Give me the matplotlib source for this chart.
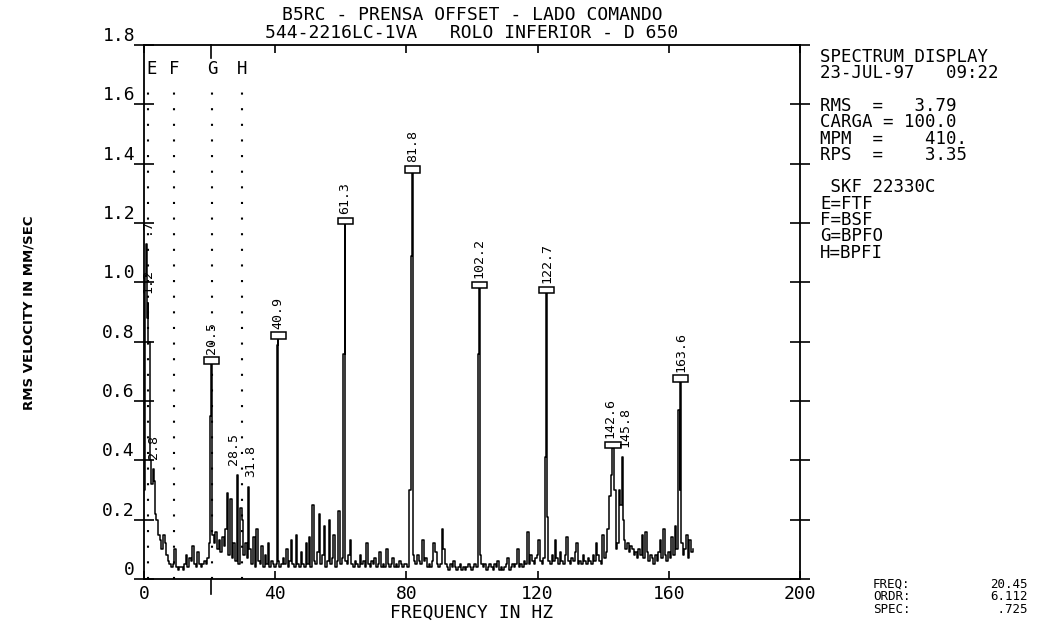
import numpy as np
import matplotlib.pyplot as plt
from matplotlib.patches import Rectangle

plt.rcParams['font.family'] = ['DejaVu Sans Mono']

# spectrum floor, 0.5 Hz steps from 0 to 167.5 Hz (RMS mm/s)
floor_step = 0.5
floor_vals = [
    0.30, 1.02, 0.88, 0.80, 0.40, 0.32, 0.33, 0.22, 0.20, 0.15, 0.13, 0.10, 0.15, 0.12, 0.08, 0.06, 0.05, 0.04, 0.05, 0.10,
    0.04, 0.03, 0.04, 0.04, 0.03, 0.05, 0.08, 0.04, 0.07, 0.06, 0.11, 0.05, 0.04, 0.09, 0.05, 0.04, 0.05, 0.06, 0.05, 0.07,
    0.12, 0.10, 0.15, 0.12, 0.16, 0.10, 0.13, 0.09, 0.14, 0.11, 0.17, 0.29, 0.08, 0.27, 0.07, 0.12, 0.06, 0.10, 0.05, 0.24,
    0.20, 0.08, 0.12, 0.07, 0.10, 0.10, 0.05, 0.14, 0.04, 0.17, 0.06, 0.05, 0.11, 0.04, 0.08, 0.05, 0.12, 0.04, 0.06, 0.05,
    0.04, 0.05, 0.06, 0.04, 0.05, 0.07, 0.05, 0.10, 0.04, 0.06, 0.13, 0.05, 0.04, 0.15, 0.05, 0.04, 0.09, 0.05, 0.04, 0.12,
    0.05, 0.14, 0.04, 0.25, 0.06, 0.05, 0.09, 0.22, 0.05, 0.08, 0.18, 0.04, 0.06, 0.20, 0.05, 0.07, 0.15, 0.04, 0.06, 0.23,
    0.05, 0.07, 0.30, 0.06, 0.05, 0.08, 0.13, 0.05, 0.04, 0.06, 0.05, 0.04, 0.08, 0.05, 0.06, 0.04, 0.12, 0.05, 0.04, 0.06,
    0.05, 0.07, 0.04, 0.05, 0.09, 0.04, 0.05, 0.04, 0.10, 0.05, 0.04, 0.05, 0.07, 0.04, 0.05, 0.04, 0.06, 0.05, 0.04, 0.05,
    0.05, 0.04, 0.30, 0.20, 0.08, 0.06, 0.05, 0.08, 0.06, 0.05, 0.13, 0.06, 0.07, 0.04, 0.05, 0.04, 0.06, 0.12, 0.09, 0.05,
    0.04, 0.05, 0.17, 0.10, 0.05, 0.04, 0.03, 0.05, 0.04, 0.06, 0.04, 0.03, 0.04, 0.05, 0.03, 0.04, 0.03, 0.04, 0.05, 0.04,
    0.03, 0.04, 0.05, 0.04, 0.20, 0.08, 0.05, 0.04, 0.05, 0.03, 0.04, 0.05, 0.04, 0.03, 0.05, 0.04, 0.06, 0.03, 0.04, 0.03,
    0.04, 0.05, 0.07, 0.03, 0.04, 0.05, 0.04, 0.05, 0.10, 0.04, 0.05, 0.04, 0.06, 0.05, 0.16, 0.05, 0.08, 0.06, 0.05, 0.07,
    0.08, 0.13, 0.06, 0.05, 0.07, 0.20, 0.21, 0.06, 0.05, 0.08, 0.06, 0.13, 0.07, 0.05, 0.09, 0.06, 0.05, 0.08, 0.14, 0.06,
    0.05, 0.07, 0.06, 0.09, 0.12, 0.05, 0.06, 0.05, 0.08, 0.06, 0.05, 0.07, 0.06, 0.05, 0.08, 0.06, 0.12, 0.08, 0.06, 0.05,
    0.15, 0.07, 0.09, 0.17, 0.28, 0.35, 0.30, 0.30, 0.10, 0.12, 0.30, 0.25, 0.20, 0.13, 0.10, 0.12, 0.09, 0.11, 0.10, 0.08,
    0.09, 0.07, 0.10, 0.08, 0.15, 0.07, 0.16, 0.09, 0.06, 0.08, 0.07, 0.05, 0.08, 0.06, 0.09, 0.13, 0.07, 0.17, 0.08, 0.06,
    0.09, 0.07, 0.14, 0.08, 0.18, 0.10, 0.57, 0.30, 0.12, 0.08, 0.10, 0.15, 0.07, 0.13, 0.09, 0.10,
]

# discrete lines that sit between the 0.5 Hz steps
peak_freqs = [0.7, 1.2, 2.8, 20.2, 20.5, 28.5, 31.8, 40.7, 40.9, 61.0, 61.3, 81.5, 81.8,
              102.0, 102.2, 122.5, 122.7, 143.0, 145.8, 163.2, 163.6]
peak_amps = [1.13, 0.93, 0.37, 0.55, 0.725, 0.35, 0.31, 0.79, 0.81, 0.76, 1.195, 1.09, 1.37,
             0.76, 0.98, 0.41, 0.963, 0.44, 0.41, 0.57, 0.665]

label_freqs = [0.7, 1.2, 2.8, 20.5, 28.5, 31.8, 40.9, 61.3, 81.8, 102.2, 122.7, 143.0, 145.8, 163.6]
label_texts = ['.7', '1.2', '2.8', '20.5', '28.5', '31.8', '40.9', '61.3', '81.8', '102.2',
               '122.7', '142.6', '145.8', '163.6']
label_boxed = [False, False, False, True, False, False, True, True, True, True, True, True, False, True]

fault_names = ['E', 'F', 'G', 'H']
fault_freqs = [1.3, 9.2, 20.8, 30.0]
cursor_freq = 20.45

title_lines = ['B5RC - PRENSA OFFSET - LADO COMANDO', '544-2216LC-1VA   ROLO INFERIOR - D 650']
info_lines = ['SPECTRUM DISPLAY', '23-JUL-97   09:22', '',
              'RMS  =   3.79', 'CARGA = 100.0', 'MPM  =    410.', 'RPS  =    3.35', '',
              ' SKF 22330C', 'E=FTF', 'F=BSF', 'G=BPFO', 'H=BPFI']
cursor_names = ['FREQ:', 'ORDR:', 'SPEC:']
cursor_vals = ['20.45', '6.112', ' .725']

# merge floor and lines into one spectrum
spec = {round(i * floor_step, 2): v for i, v in enumerate(floor_vals)}
for f, a in zip(peak_freqs, peak_amps):
    spec[round(f, 2)] = a
freq = np.array(sorted(spec))
amp = np.array([spec[f] for f in freq])

W, H = 1058, 626
fig = plt.figure(figsize=(W / 100, H / 100), dpi=100)
ax = fig.add_axes([144 / W, 1 - 579 / H, 656 / W, 534 / H])

ax.plot(freq, amp, color='black', lw=1.1, drawstyle='steps-mid')

ax.set_xlim(0, 200)
ax.set_ylim(0, 1.8)
yt = np.arange(0, 1.81, 0.2)
ax.set_yticks(yt)
ax.set_yticklabels(['0'] + [f'{v:.1f}' for v in yt[1:]])
ax.set_xticks(range(0, 201, 40))
ax.tick_params(axis='y', direction='inout', length=15, width=1.2, left=True, right=True,
               labelsize=13, pad=-1)
ax.tick_params(axis='x', direction='in', length=6, width=1.2, top=True, bottom=True,
               labelsize=13, pad=4)
for lab in ax.get_yticklabels():
    lab.set_va('bottom')
for s in ax.spines.values():
    s.set_linewidth(1.3)

# bearing defect frequencies
ax.vlines(fault_freqs, 0, 1.67, colors='black', linestyles=(0, (1, 6.5)), lw=1.5)
for name, f in zip(fault_names, fault_freqs):
    ax.text(max(f, 2.2), 1.72, name, ha='center', va='center', fontsize=12.5)

# peak markers and labels (crowded labels nudged sideways)
box_w, box_h = 4.6, 0.022
nudge = {'142.6': -1.0, '145.8': 0.7, '28.5': -1.2, '31.8': 0.6}
for f, txt, boxed in zip(label_freqs, label_texts, label_boxed):
    a = spec[round(f, 2)]
    if boxed:
        ax.add_patch(Rectangle((f - box_w / 2, a), box_w, box_h, fill=True,
                               facecolor='white', edgecolor='black', lw=1.1, zorder=3))
    ax.text(f + nudge.get(txt, 0), a + box_h + 0.012, txt, rotation=90,
            ha='center', va='bottom', fontsize=9.5)

# cursor marks
ax.plot([cursor_freq, cursor_freq], [1.8, 1.755], color='black', lw=1.2, clip_on=False)
ax.plot([cursor_freq, cursor_freq], [0, -0.05], color='black', lw=1.2, clip_on=False)

ax.set_xlabel('FREQUENCY IN HZ', fontsize=13, labelpad=1)

cx = (144 + 800) / 2 / W
fig.text(cx, 1 - 15 / H, title_lines[0], ha='center', va='center', fontsize=13)
fig.text(cx, 1 - 33 / H, title_lines[1], ha='center', va='center', fontsize=13)

fig.text(29 / W, 1 - 313 / H, 'RMS VELOCITY IN MM/SEC', rotation=90, ha='center', va='center',
         fontsize=9.5, fontweight='bold', family=['Liberation Sans Narrow', 'DejaVu Sans'])

for i, line in enumerate(info_lines):
    fig.text(820 / W, 1 - (57 + 16.3 * i) / H, line, ha='left', va='center', fontsize=12.5)

fig.text(873 / W, 1 - 597 / H, '\n'.join(cursor_names), ha='left', va='center',
         fontsize=9, linespacing=0.95)
fig.text(990 / W, 1 - 597 / H, '\n'.join(cursor_vals), ha='left', va='center',
         fontsize=9, linespacing=0.95)

fig.savefig('out.png', dpi=100)
